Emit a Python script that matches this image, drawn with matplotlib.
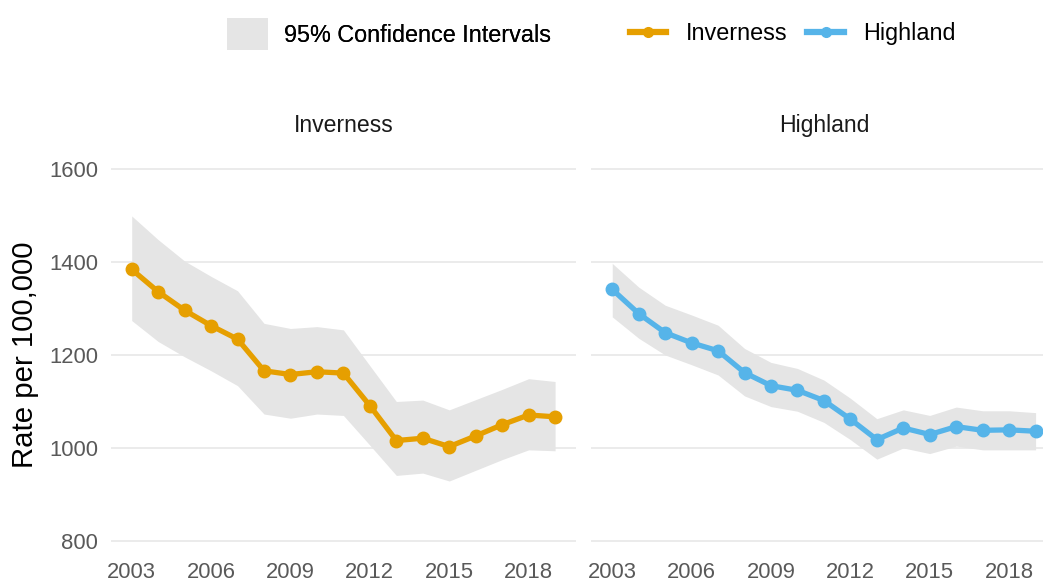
import numpy as np
import matplotlib
matplotlib.use("Agg")
import matplotlib.pyplot as plt
from matplotlib.patches import Patch
from matplotlib.lines import Line2D

plt.rcParams["font.family"] = ["Liberation Sans", "DejaVu Sans"]

# Datos
years = list(range(2003, 2020))

inverness_rate = [1384, 1336, 1296, 1263, 1234, 1166, 1158, 1164, 1161, 1091, 1016, 1021, 1003, 1026, 1050, 1071, 1067]
inverness_upper = [1499, 1448, 1402, 1369, 1338, 1268, 1257, 1261, 1254, 1177, 1100, 1103, 1082, 1104, 1126, 1149, 1143]
inverness_lower = [1274, 1229, 1196, 1166, 1134, 1073, 1064, 1073, 1070, 1006, 941, 946, 929, 952, 975, 996, 994]

highland_rate = [1341, 1289, 1248, 1226, 1209, 1162, 1134, 1124, 1102, 1062, 1018, 1043, 1029, 1046, 1038, 1039, 1036]
highland_upper = [1397, 1346, 1307, 1286, 1264, 1214, 1184, 1171, 1146, 1107, 1063, 1082, 1070, 1088, 1080, 1080, 1076]
highland_lower = [1282, 1236, 1200, 1179, 1157, 1112, 1089, 1079, 1055, 1018, 976, 1000, 988, 1004, 996, 996, 996]

x_ticks = [2003, 2006, 2009, 2012, 2015, 2018]
y_ticks = [800, 1000, 1200, 1400, 1600]

orange = "#E69F00"
blue = "#56B4E9"
ribbon = "#E5E5E5"

fig = plt.figure(figsize=(10.43, 5.84), dpi=100)
ax1 = fig.add_axes([0.106, 0.0418, 0.4465, 0.7007])
ax2 = fig.add_axes([0.5667, 0.0418, 0.4465, 0.7007])

panels = [
    (ax1, "Inverness", inverness_rate, inverness_lower, inverness_upper, orange),
    (ax2, "Highland", highland_rate, highland_lower, highland_upper, blue),
]

for ax, name, rate, lower, upper, col in panels:
    ax.fill_between(years, lower, upper, color=ribbon, linewidth=0, zorder=1)
    ax.plot(years, rate, color=col, linewidth=3.8, marker="o", markersize=9, zorder=3)
    ax.set_xlim(2002.2, 2019.8)
    ax.set_ylim(760, 1640)
    ax.set_xticks(x_ticks)
    ax.set_yticks(y_ticks)
    ax.grid(axis="y", color="#EBEBEB", linewidth=1.4, zorder=0)
    ax.set_axisbelow(True)
    for s in ax.spines.values():
        s.set_visible(False)
    ax.tick_params(axis="both", length=0, labelsize=15.8, labelcolor="#595959")
    ax.tick_params(axis="x", pad=2)
    ax.tick_params(axis="y", pad=9)
    ax.annotate(name, xy=(0.5, 1.0), xycoords="axes fraction", xytext=(0, 18),
                textcoords="offset points", ha="center", va="center",
                fontsize=16.6, color="#1A1A1A")

ax2.tick_params(axis="y", labelleft=False)
ax1.set_ylabel("Rate per 100,000", fontsize=21.2, color="black", labelpad=7)

# Leyendas
leg1 = fig.legend(handles=[Patch(facecolor=ribbon, edgecolor="none", label="95% Confidence Intervals")],
                  loc="center left", bbox_to_anchor=(0.2176, 0.9418), frameon=False,
                  fontsize=16.8, handlelength=1.75, handleheight=1.75, handletextpad=0.7,
                  borderpad=0, borderaxespad=0)
fig.add_artist(leg1)
leg2 = fig.legend(handles=[Line2D([0], [0], color=orange, linewidth=4.5, marker="o", markersize=7, label="Inverness"),
                           Line2D([0], [0], color=blue, linewidth=4.5, marker="o", markersize=7, label="Highland")],
                  loc="center left", bbox_to_anchor=(0.604, 0.9418), frameon=False, ncol=2,
                  fontsize=16.8, handlelength=1.55, handletextpad=0.85, columnspacing=0.85,
                  borderpad=0, borderaxespad=0)

fig.savefig("out.png", dpi=100)
